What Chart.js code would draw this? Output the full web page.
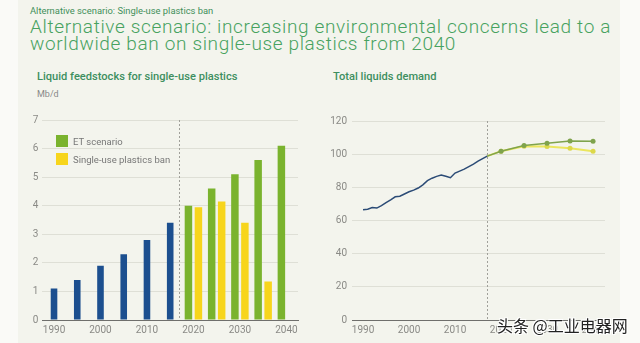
<!DOCTYPE html>
<html lang="en">
<head>
  <meta charset="UTF-8"/>
  <title>Single-use plastics ban</title>
  <script src="https://cdn.jsdelivr.net/npm/chart.js"></script>
  <style>
    html, body { margin: 0; padding: 0; background: #fafaf7; }
    body { width: 640px; height: 343px; position: relative; overflow: hidden; font-family: Roboto, "Liberation Sans", sans-serif; }
    .panel { position: absolute; left: 18px; top: 0; width: 602px; height: 343px; background: #f3f4ed; }
    .kicker { position: absolute; left: 30px; top: 4.5px; font-size: 9.4px; line-height: 12px; color: #3f8f5a; }
    .title { position: absolute; left: 30px; top: 18px; font-size: 19px; line-height: 17px; letter-spacing: 0.65px; font-weight: 300; color: #47a260; white-space: nowrap; }
    .sub { position: absolute; top: 70px; font-size: 11.1px; font-weight: 500; color: #3d8f5f; }
    .unit { position: absolute; left: 37px; top: 89px; font-size: 9px; color: #888; }
    .box { position: absolute; }
    .legend { position: absolute; left: 56px; top: 132px; font-size: 9.5px; color: #777; }
    .legend div { display: flex; align-items: center; height: 18px; }
    .legend span.sw { display: inline-block; width: 12px; height: 12px; margin-right: 5px; }
    .mark { position: absolute; left: 497px; top: 313px; font-family: "Noto Sans CJK SC", sans-serif; font-size: 16px; color: #222;
      text-shadow: 1px 1px 0 #fff, -1px -1px 0 #fff, 1px -1px 0 #fff, -1px 1px 0 #fff; white-space: nowrap; }
  </style>
</head>
<body>
  <div class="panel"></div>
  <div class="kicker">Alternative scenario: Single-use plastics ban</div>
  <div class="title">Alternative scenario: increasing environmental concerns lead to a<br/>worldwide ban on single-use plastics from 2040</div>
  <div class="sub" style="left:37px">Liquid feedstocks for single-use plastics</div>
  <div class="sub" style="left:333px">Total liquids demand</div>
  <div class="unit">Mb/d</div>

  <div class="box" style="left:20px; top:110px; width:285px; height:230px;"><canvas id="feedChart"></canvas></div>
  <div class="box" style="left:325px; top:110px; width:295px; height:230px;"><canvas id="demandChart"></canvas></div>

  <div class="legend">
    <div><span class="sw" style="background:#7ab32e"></span>ET scenario</div>
    <div><span class="sw" style="background:#f7d51c"></span>Single-use plastics ban</div>
  </div>
  <div class="mark">头条 @工业电器网</div>

  <script>
    // left chart: feedstocks, Mb/d
    const barYears = ['1990','1995','2000','2005','2010','2015','2020','2025','2030','2035','2040'];
    const historical = [1.1, 1.4, 1.9, 2.3, 2.8, 3.4, null, null, null, null, null];
    const etBars     = [null, null, null, null, null, null, 4.0, 4.6, 5.1, 5.6, 6.1];
    const banBars    = [null, null, null, null, null, null, 3.95, 4.15, 3.4, 1.35, 0];

    // right chart: total liquids demand, Mb/d
    const histYears = [1990,1991,1992,1993,1994,1995,1996,1997,1998,1999,2000,2001,2002,2003,
                       2004,2005,2006,2007,2008,2009,2010,2011,2012,2013,2014,2015,2016,2017];
    const histDemand = [66.5,66.8,67.8,67.5,69,70.8,72.5,74.3,74.6,76,77.3,78.3,79.6,81.5,
                        84,85.5,86.6,87.4,86.7,85.8,88.6,89.8,91,92.5,94,95.8,97.3,98.8];
    const outYears  = [2017, 2020, 2025, 2030, 2035, 2040];
    const etDemand  = [98.8, 101.8, 105.2, 106.6, 108, 107.8];
    const banDemand = [98.8, 101.8, 104.8, 104.6, 103.6, 101.8];
    const demandTicks = [1990, 2000, 2010, 2020, 2030, 2040];

    const splitYear = 2017;

    const tickFont = { family: 'Roboto, "Liberation Sans", sans-serif', size: 10 };
    const tickColor = '#8a8a86';
    const gridColor = '#dedfd6';

    // dashed divider at the base year
    const divider = {
      id: 'divider',
      afterDatasetsDraw(chart, args, opts) {
        const { ctx, chartArea } = chart;
        const x = chart.scales.x.getPixelForValue(opts.value);
        ctx.save();
        ctx.strokeStyle = '#a0a09a';
        ctx.lineWidth = 1;
        ctx.setLineDash([2, 2]);
        ctx.beginPath();
        ctx.moveTo(Math.round(x) + 0.5, chartArea.top);
        ctx.lineTo(Math.round(x) + 0.5, chartArea.bottom);
        ctx.stroke();
        ctx.restore();
      }
    };

    // index position of 2017 on the 5-year category axis
    const splitIndex = (splitYear - 1990) / 5;

    new Chart(document.getElementById('feedChart'), {
      type: 'bar',
      data: {
        labels: barYears,
        datasets: [
          { data: historical, backgroundColor: '#1c4f8f', barPercentage: 0.33, categoryPercentage: 0.86, skipNull: true },
          { data: etBars, backgroundColor: '#7ab32e', barPercentage: 0.75, categoryPercentage: 0.86, skipNull: true },
          { data: banBars, backgroundColor: '#f7d51c', barPercentage: 0.75, categoryPercentage: 0.86, skipNull: true }
        ]
      },
      options: {
        responsive: true, maintainAspectRatio: false, animation: false,
        layout: { padding: { top: 10, right: 7, left: 0, bottom: 0 } },
        plugins: { legend: { display: false }, tooltip: { enabled: false }, divider: { value: splitIndex } },
        scales: {
          x: {
            grid: { display: false, drawTicks: false },
            border: { color: '#6f6f6c', width: 1 },
            ticks: { color: tickColor, font: tickFont, padding: 4, maxRotation: 0, autoSkip: false,
              callback: (v, i) => (i % 2 === 0 ? barYears[i] : '') },
            afterFit: s => { s.height = 20; }
          },
          y: {
            min: 0, max: 7,
            grid: { color: gridColor, drawTicks: false },
            border: { display: false },
            ticks: { stepSize: 1, color: tickColor, font: tickFont, padding: 4 },
            afterFit: s => { s.width = 22.4; }
          }
        }
      },
      plugins: [divider]
    });

    const xy = (xs, ys) => xs.map((x, i) => ({ x, y: ys[i] }));

    new Chart(document.getElementById('demandChart'), {
      type: 'line',
      data: {
        datasets: [
          { data: xy(histYears, histDemand), borderColor: '#2b4b76', borderWidth: 1.5, pointRadius: 0, tension: 0 },
          { data: xy(outYears, etDemand), borderColor: '#7fa34c', borderWidth: 1.5, backgroundColor: '#7fa34c',
            pointRadius: [0, 2.5, 2.5, 2.5, 2.5, 2.5], pointBorderWidth: 0 },
          { data: xy(outYears, banDemand), borderColor: '#ebe65e', borderWidth: 2, backgroundColor: '#dcd84a',
            pointRadius: [0, 2.5, 2.5, 2.5, 2.5, 2.5], pointBorderWidth: 0 }
        ]
      },
      options: {
        responsive: true, maintainAspectRatio: false, animation: false,
        layout: { padding: { top: 10, right: 15, left: 0, bottom: 0 } },
        plugins: { legend: { display: false }, tooltip: { enabled: false }, divider: { value: splitYear } },
        scales: {
          x: {
            type: 'linear', min: 1987.6, max: 2042.6,
            grid: { display: false, drawTicks: false },
            border: { color: '#6f6f6c', width: 1 },
            ticks: { color: tickColor, font: tickFont, padding: 4, maxRotation: 0, callback: v => String(v) },
            afterBuildTicks: s => { s.ticks = demandTicks.map(v => ({ value: v })); },
            afterFit: s => { s.height = 20; }
          },
          y: {
            min: 0, max: 120,
            grid: { color: gridColor, drawTicks: false },
            border: { display: false },
            ticks: { stepSize: 20, color: tickColor, font: tickFont, padding: 5 },
            afterFit: s => { s.width = 27; }
          }
        }
      },
      plugins: [divider]
    });
  </script>
</body>
</html>
